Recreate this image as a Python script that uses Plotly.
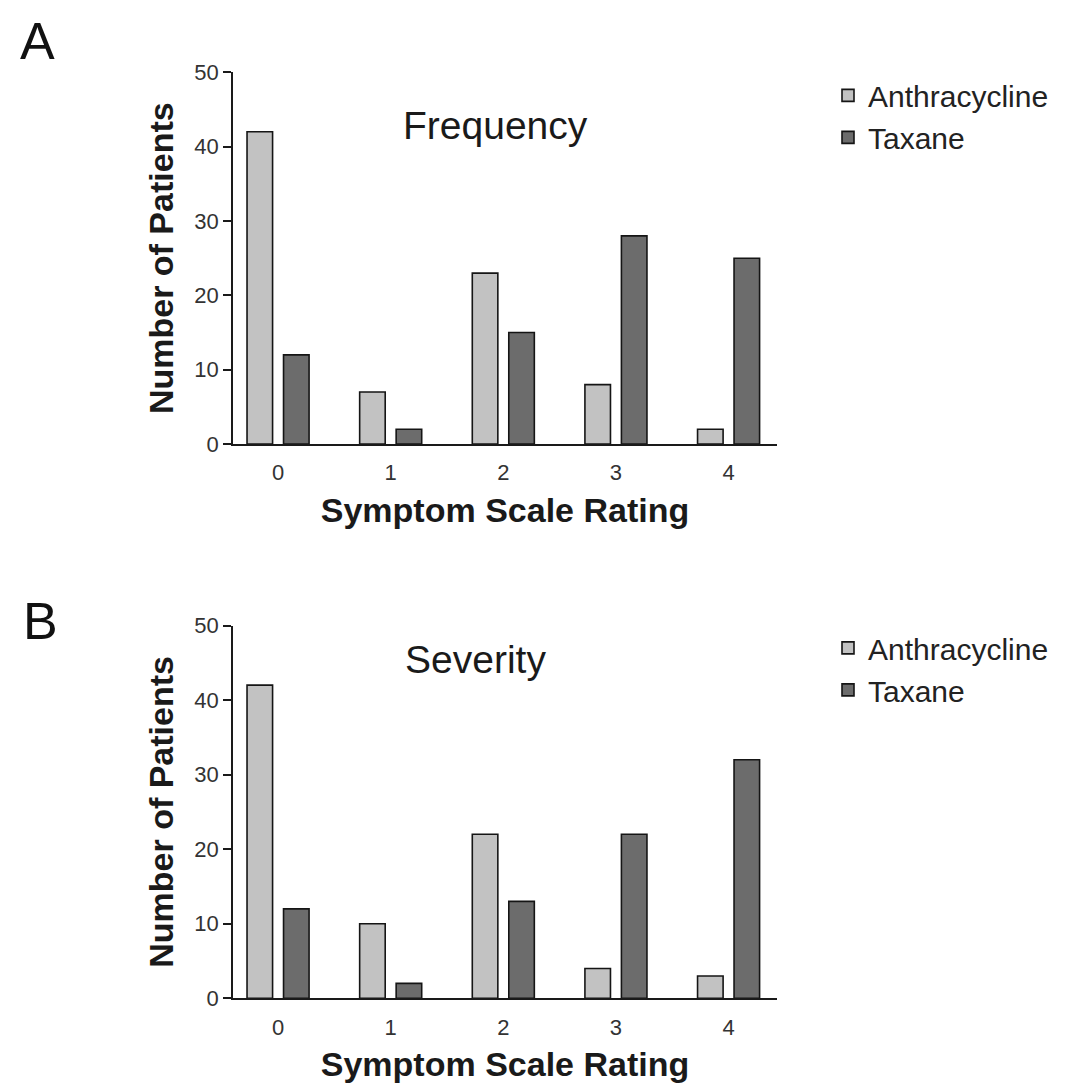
import plotly.graph_objects as go

categories = ["0", "1", "2", "3", "4"]
freq_anthracycline = [42, 7, 23, 8, 2]
freq_taxane = [12, 2, 15, 28, 25]
sev_anthracycline = [42, 10, 22, 4, 3]
sev_taxane = [12, 2, 13, 22, 32]
y_ticks = [0, 10, 20, 30, 40, 50]

# page body has an 8px margin
OFF = 8
W, H = 1075 - 2 * OFF, 1092
FONT = "Arial, Liberation Sans, sans-serif"
C_A = "#c2c2c2"
C_T = "#6c6c6c"
LINE = dict(color="#151515", width=1.6)


def px_x(p):
    return (p - OFF) / W


def page_y(ref):
    # compensate for the vertical mapping of the screenshot
    return (ref - 12) / 0.975


def px_y(ref):
    return 1 - (page_y(ref) - OFF) / H


fig = go.Figure()
fig.add_trace(go.Bar(x=categories, y=freq_anthracycline, name="Anthracycline",
                     marker=dict(color=C_A, line=LINE), xaxis="x", yaxis="y", legend="legend"))
fig.add_trace(go.Bar(x=categories, y=freq_taxane, name="Taxane",
                     marker=dict(color=C_T, line=LINE), xaxis="x", yaxis="y", legend="legend"))
fig.add_trace(go.Bar(x=categories, y=sev_anthracycline, name="Anthracycline",
                     marker=dict(color=C_A, line=LINE), xaxis="x2", yaxis="y2", legend="legend2"))
fig.add_trace(go.Bar(x=categories, y=sev_taxane, name="Taxane",
                     marker=dict(color=C_T, line=LINE), xaxis="x2", yaxis="y2", legend="legend2"))

xdom = [px_x(233), px_x(777)]
xax = dict(domain=xdom, showline=True, linecolor="#1a1a1a", linewidth=1.8, ticks="",
           ticklabelstandoff=8,
           tickfont=dict(size=22, color="#333"), range=[-0.40, 4.43],
           title=dict(text="<b>Symptom Scale Rating</b>", font=dict(size=34, color="#1a1a1a"), standoff=14),
           showgrid=False, zeroline=False)
yax = dict(range=[0, 50], tickvals=y_ticks, showline=True, linecolor="#1a1a1a", linewidth=1.8,
           ticks="outside", ticklen=8, tickcolor="#1a1a1a", tickwidth=1.5,
           tickfont=dict(size=22, color="#333"), showgrid=False, zeroline=False,
           title=dict(text="<b>Number of Patients</b>", font=dict(size=34, color="#1a1a1a"), standoff=10))

fig.update_layout(
    width=W, height=H,
    margin=dict(l=0, r=0, t=0, b=0),
    paper_bgcolor="white", plot_bgcolor="white",
    font=dict(family=FONT, color="#222"),
    barmode="group", bargap=0.352, bargroupgap=0.30,
    xaxis=dict(xax, anchor="y"),
    yaxis=dict(yax, domain=[px_y(443), px_y(72)], anchor="x"),
    xaxis2=dict(xax, anchor="y2"),
    yaxis2=dict(yax, domain=[px_y(996), px_y(624)], anchor="x2"),
    legend=dict(x=px_x(828), y=1 - (58.5 - OFF) / H, xanchor="left", yanchor="top",
                font=dict(size=30, color="#222"), bgcolor="rgba(0,0,0,0)", tracegroupgap=0),
    legend2=dict(x=px_x(828), y=1 - (624 - OFF) / H, xanchor="left", yanchor="top",
                 font=dict(size=30, color="#222"), bgcolor="rgba(0,0,0,0)", tracegroupgap=0),
    annotations=[
        dict(text="Frequency", x=px_x(495), y=px_y(125), xref="paper", yref="paper",
             xanchor="center", yanchor="middle", showarrow=False, font=dict(size=39, color="#1a1a1a")),
        dict(text="Severity", x=px_x(475), y=px_y(658), xref="paper", yref="paper",
             xanchor="center", yanchor="middle", showarrow=False, font=dict(size=39, color="#1a1a1a")),
        dict(text="A", x=px_x(37), y=px_y(41), xref="paper", yref="paper",
             xanchor="center", yanchor="middle", showarrow=False, font=dict(size=52, color="#111")),
        dict(text="B", x=px_x(40), y=px_y(620), xref="paper", yref="paper",
             xanchor="center", yanchor="middle", showarrow=False, font=dict(size=52, color="#111")),
    ],
)

fig.write_html("out.html")
